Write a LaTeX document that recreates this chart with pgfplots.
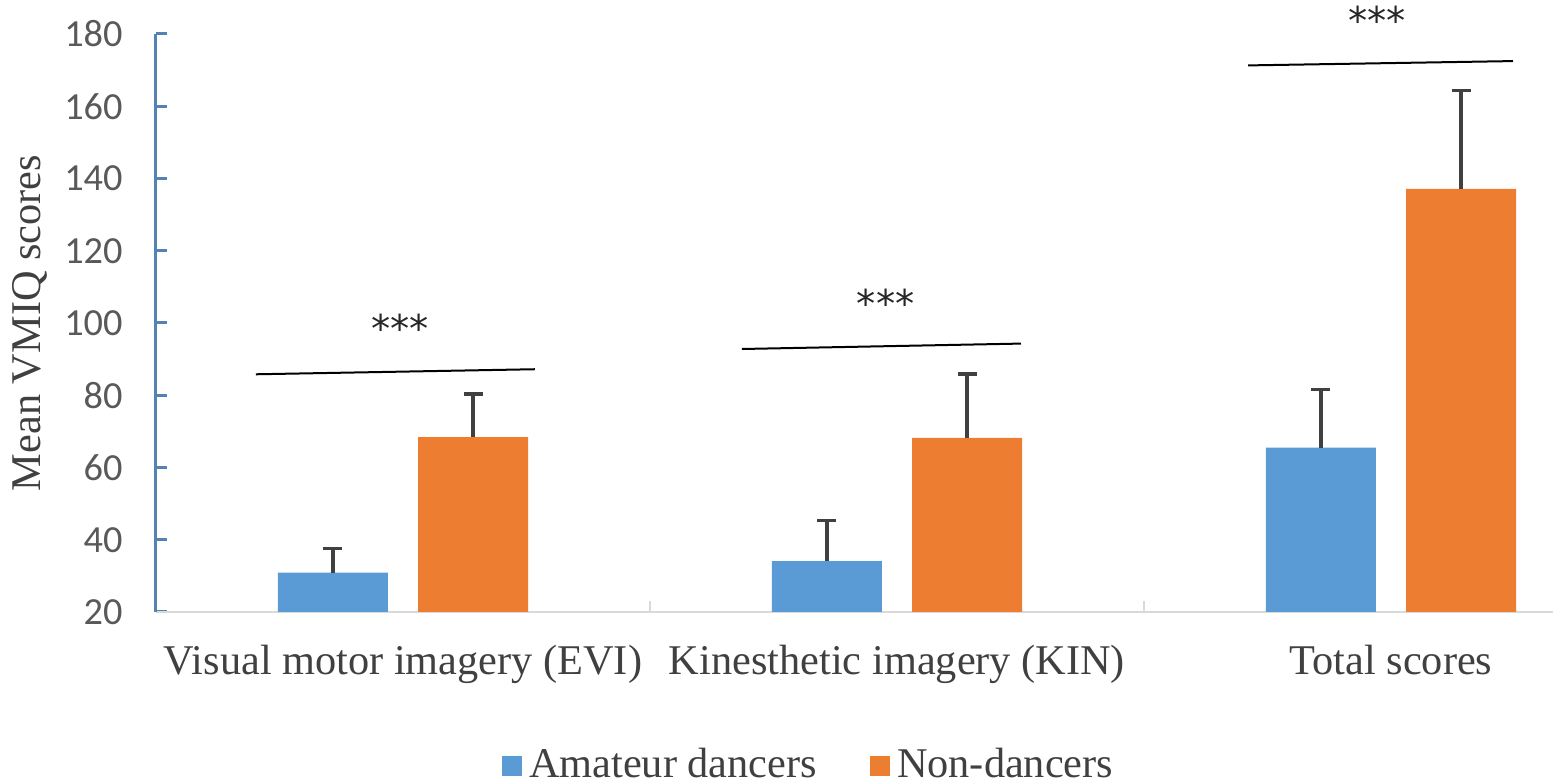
\documentclass[border=0pt]{standalone}
\usepackage{pgfplots}
\pgfplotsset{compat=1.18}
\usepackage{fontspec}
\setmainfont{Liberation Serif}
\newfontfamily\carlito{Carlito}
\newfontfamily\dejavu{DejaVu Sans}
\definecolor{barblue}{RGB}{91,155,213}
\definecolor{barorange}{RGB}{237,125,49}
\definecolor{yaxisblue}{RGB}{84,130,178}
\definecolor{xaxisgrey}{RGB}{217,217,217}
\definecolor{ticktext}{RGB}{89,89,89}
\definecolor{labeltext}{RGB}{64,64,64}
\definecolor{errgrey}{RGB}{64,64,64}
\begin{document}
\begin{tikzpicture}
\begin{axis}[
  scale only axis, width=419.1pt, height=173.4pt,
  xmin=-0.5, xmax=2.328, ymin=20, ymax=180,
  clip mode=individual,
  axis lines=left,
  axis line style={-},
  x axis line style={draw=xaxisgrey, line width=0.7pt},
  y axis line style={draw=yaxisblue, line width=0.9pt},
  tick align=inside,
  major tick length=3.3pt,
  ytick={20,40,...,180},
  ytick style={draw=yaxisblue, line width=0.9pt},
  yticklabel style={font=\fontsize{11.5}{12}\selectfont\carlito, text=ticktext, xshift=-6.5pt},
  /pgf/number format/assume math mode=true,
  xtick={0,1,2},
  xticklabels={Visual motor imagery (EVI), Kinesthetic imagery (KIN), Total scores},
  xtick style={draw=none},
  xticklabel style={font=\fontsize{12.7}{13}\selectfont, text=labeltext, yshift=-6.5pt},
  ylabel={Mean VMIQ scores},
  ylabel style={at={(axis description cs:-0.090,0.5)}, anchor=center, font=\fontsize{12.7}{13}\selectfont, text=labeltext},
  legend style={at={(axis description cs:0.469,-0.266)}, anchor=center, draw=none, fill=none,
    font=\fontsize{12.7}{13}\selectfont, text=labeltext,
    /tikz/every even column/.append style={column sep=14pt}},
  legend columns=2,
  legend image code/.code={\fill[#1] (0pt,-3pt) rectangle (6pt,3pt);},
]
\addplot[ybar, bar width=0.223, bar shift=0pt, fill=barblue, draw=none,
  error bars/.cd, y dir=plus, y explicit,
  error bar style={line width=1pt, errgrey},
  error mark options={rotate=90, line width=1pt, errgrey, mark size=2.85pt}]
  coordinates {(-0.142,30.9) +- (0,6.7) (0.858,34.1) +- (0,11.2) (1.858,65.5) +- (0,16.1)};
\addlegendentry{Amateur dancers}
\addplot[ybar, bar width=0.223, bar shift=0pt, fill=barorange, draw=none,
  error bars/.cd, y dir=plus, y explicit,
  error bar style={line width=1pt, errgrey},
  error mark options={rotate=90, line width=1pt, errgrey, mark size=2.85pt}]
  coordinates {(0.142,68.4) +- (0,11.9) (1.142,68.2) +- (0,17.7) (2.142,137.1) +- (0,27.2)};
\addlegendentry{Non-dancers}
% category separators
\draw[xaxisgrey, line width=0.7pt] (axis cs:0.5,20) -- ([yshift=3.3pt]axis cs:0.5,20);
\draw[xaxisgrey, line width=0.7pt] (axis cs:1.5,20) -- ([yshift=3.3pt]axis cs:1.5,20);
% significance lines
\draw[black, line width=0.6pt] (axis cs:-0.298,85.8) -- (axis cs:0.267,87.2);
\draw[black, line width=0.6pt] (axis cs:0.686,92.8) -- (axis cs:1.251,94.3);
\draw[black, line width=0.6pt] (axis cs:1.711,171.3) -- (axis cs:2.247,172.5);
\node[font=\fontsize{11.5}{12}\selectfont\dejavu, text=black!85, inner sep=0pt] at (axis cs:-0.006,98.5) {***};
\node[font=\fontsize{11.5}{12}\selectfont\dejavu, text=black!85, inner sep=0pt] at (axis cs:0.977,105.5) {***};
\node[font=\fontsize{11.5}{12}\selectfont\dejavu, text=black!85, inner sep=0pt] at (axis cs:1.972,183.9) {***};
\end{axis}
\pgfresetboundingbox
\path[use as bounding box] (-46.8pt,-51pt) rectangle (420.9pt,183.6pt);
\end{tikzpicture}
\end{document}
